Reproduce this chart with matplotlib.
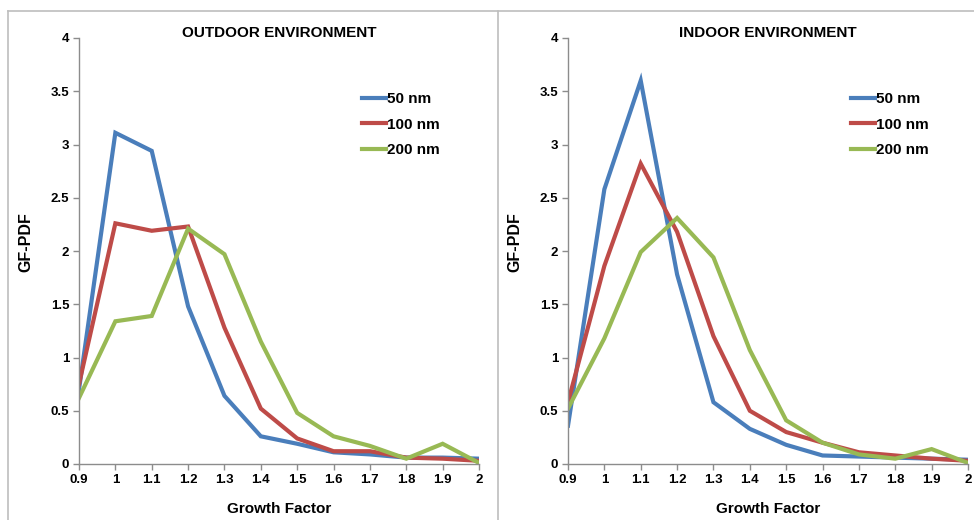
import matplotlib
matplotlib.use("Agg")
import matplotlib.pyplot as plt
from matplotlib.lines import Line2D

plt.rcParams['font.family'] = ['Liberation Sans', 'DejaVu Sans']
plt.rcParams['font.weight'] = 'bold'

# --- Data ---
growth_factor = [0.9, 1.0, 1.1, 1.2, 1.3, 1.4, 1.5, 1.6, 1.7, 1.8, 1.9, 2.0]
sizes = ["50 nm", "100 nm", "200 nm"]

outdoor_50 = [0.70, 3.11, 2.94, 1.48, 0.64, 0.26, 0.19, 0.11, 0.09, 0.06, 0.06, 0.05]
outdoor_100 = [0.75, 2.26, 2.19, 2.23, 1.28, 0.52, 0.24, 0.12, 0.12, 0.06, 0.05, 0.03]
outdoor_200 = [0.62, 1.34, 1.39, 2.21, 1.97, 1.15, 0.48, 0.26, 0.17, 0.05, 0.19, 0.01]

indoor_50 = [0.36, 2.58, 3.60, 1.78, 0.58, 0.33, 0.18, 0.08, 0.07, 0.06, 0.05, 0.04]
indoor_100 = [0.58, 1.86, 2.82, 2.18, 1.20, 0.50, 0.30, 0.20, 0.11, 0.08, 0.05, 0.03]
indoor_200 = [0.52, 1.18, 1.99, 2.31, 1.94, 1.07, 0.41, 0.20, 0.09, 0.05, 0.14, 0.01]

colors = ["#4A7EBB", "#BE4B48", "#98B954"]
x_ticks = [0.9, 1.0, 1.1, 1.2, 1.3, 1.4, 1.5, 1.6, 1.7, 1.8, 1.9, 2.0]
x_ticklabels = ["0.9", "1", "1.1", "1.2", "1.3", "1.4", "1.5", "1.6", "1.7", "1.8", "1.9", "2"]
y_ticks = [0, 0.5, 1, 1.5, 2, 2.5, 3, 3.5, 4]
y_ticklabels = ["0", "0.5", "1", "1.5", "2", "2.5", "3", "3.5", "4"]

panels = [
    ("OUTDOOR ENVIRONMENT", [outdoor_50, outdoor_100, outdoor_200]),
    ("INDOOR ENVIRONMENT", [indoor_50, indoor_100, indoor_200]),
]

fig = plt.figure(figsize=(9.74, 5.2), dpi=100)
axes_left = [79 / 974, 568 / 974]
spine_col = "#8C8C8C"

for (title, series), x0 in zip(panels, axes_left):
    ax = fig.add_axes([x0, 1 - 464 / 520, 400 / 974, 426 / 520])
    for vals, lab, c in zip(series, sizes, colors):
        ax.plot(growth_factor, vals, color=c, lw=3.0, label=lab, solid_joinstyle='miter')
    ax.set_xlim(0.9, 2.0)
    ax.set_ylim(0, 4)
    ax.set_xticks(x_ticks)
    ax.set_xticklabels(x_ticklabels)
    ax.set_yticks(y_ticks)
    ax.set_yticklabels(y_ticklabels)
    for s in ["top", "right"]:
        ax.spines[s].set_visible(False)
    for s in ["left", "bottom"]:
        ax.spines[s].set_color(spine_col)
        ax.spines[s].set_linewidth(1.0)
    ax.tick_params(axis='both', direction='out', length=4, width=1.0, color=spine_col,
                   labelsize=9.5, pad=3)
    for lbl in ax.get_xticklabels() + ax.get_yticklabels():
        lbl.set_fontweight('bold')
    ax.set_xlabel("Growth Factor", fontsize=11, fontweight='bold', labelpad=12)
    ax.set_ylabel("GF-PDF", fontsize=11.5, fontweight='bold')
    ax.yaxis.set_label_coords(-0.113, 0.52)
    ax.set_title(title, fontsize=11, fontweight='bold', y=1.003, pad=0)
    ax.legend(loc='upper left', bbox_to_anchor=(0.7075, 0.873), frameon=False,
              fontsize=11, handlelength=1.6, handletextpad=0.05, labelspacing=0.75,
              borderpad=0, borderaxespad=0)

# panel frame lines
frame_col = "#BEBEBE"
fig.add_artist(Line2D([8 / 974, 1], [1 - 11 / 520, 1 - 11 / 520], color=frame_col, lw=1.2))
fig.add_artist(Line2D([8 / 974, 8 / 974], [0, 1 - 11 / 520], color=frame_col, lw=1.2))
fig.add_artist(Line2D([498 / 974, 498 / 974], [0, 1 - 11 / 520], color=frame_col, lw=1.2))

fig.savefig("out.png", dpi=100, facecolor="white")
